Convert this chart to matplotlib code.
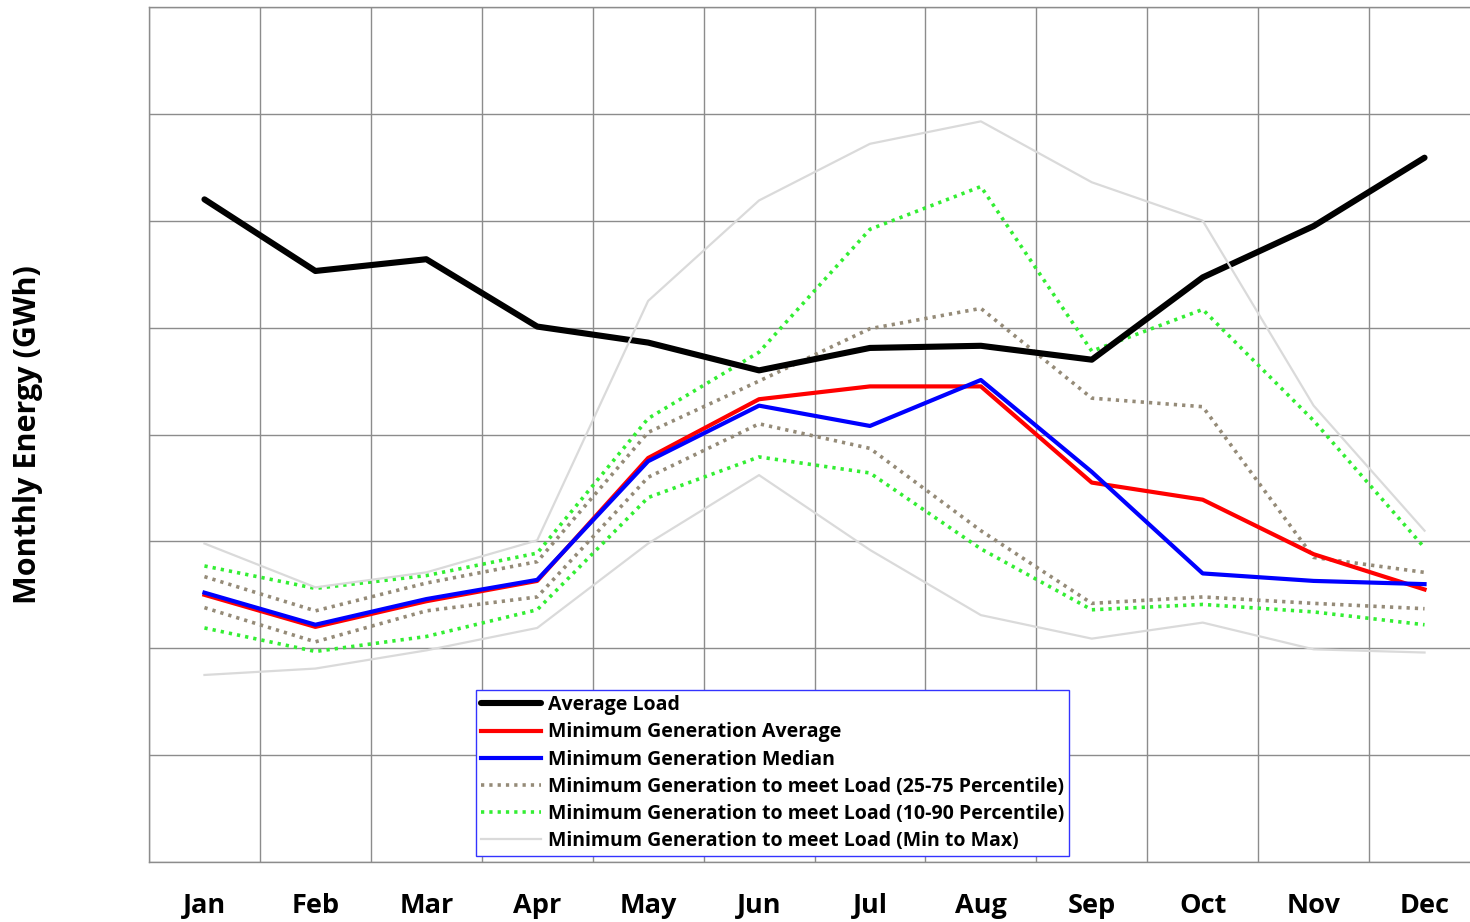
import numpy as np
import matplotlib.pyplot as plt

plt.rcParams['font.family'] = ['Open Sans', 'DejaVu Sans']

months = ['Jan', 'Feb', 'Mar', 'Apr', 'May', 'Jun', 'Jul', 'Aug', 'Sep', 'Oct', 'Nov', 'Dec']

# values (one grid step = 1 unit, no y labels in the original)
avg_load = [6.20, 5.53, 5.64, 5.01, 4.86, 4.60, 4.81, 4.83, 4.70, 5.47, 5.95, 6.59]
mingen_avg = [2.50, 2.20, 2.44, 2.63, 3.78, 4.33, 4.45, 4.45, 3.55, 3.39, 2.88, 2.55]
mingen_median = [2.52, 2.22, 2.46, 2.64, 3.75, 4.27, 4.08, 4.51, 3.65, 2.70, 2.63, 2.60]
p75 = [2.67, 2.35, 2.61, 2.81, 4.02, 4.50, 4.99, 5.18, 4.34, 4.26, 2.85, 2.71]
p25 = [2.38, 2.06, 2.35, 2.48, 3.60, 4.10, 3.87, 3.10, 2.42, 2.48, 2.42, 2.37]
p90 = [2.77, 2.56, 2.68, 2.89, 4.15, 4.77, 5.92, 6.32, 4.78, 5.17, 4.13, 2.94]
p10 = [2.19, 1.97, 2.11, 2.36, 3.41, 3.79, 3.64, 2.93, 2.36, 2.41, 2.34, 2.22]
gen_max = [2.98, 2.57, 2.71, 3.01, 5.25, 6.19, 6.72, 6.93, 6.36, 6.00, 4.27, 3.10]
gen_min = [1.75, 1.81, 1.98, 2.19, 2.98, 3.62, 2.92, 2.31, 2.09, 2.24, 1.99, 1.96]

x = np.arange(len(months))

fig = plt.figure(figsize=(14.7, 9.22), dpi=100)
ax = fig.add_axes([149 / 1470, 60 / 922, 1331 / 1470, 855 / 922])

dot = (0, (0.9, 1.4))
ax.plot(x, avg_load, color='black', lw=4.4, solid_capstyle='round', label='Average Load', zorder=5)
ax.plot(x, mingen_avg, color='#ff0000', lw=3.0, label='Minimum Generation Average', zorder=4)
ax.plot(x, mingen_median, color='#0000ff', lw=3.0, label='Minimum Generation Median', zorder=4)
ax.plot(x, p75, color='#958b78', lw=2.6, ls=dot,
        label='Minimum Generation to meet Load (25-75 Percentile)', zorder=3)
ax.plot(x, p25, color='#958b78', lw=2.6, ls=dot, label='_nolegend_', zorder=3)
ax.plot(x, p90, color='#33ee33', lw=2.6, ls=dot,
        label='Minimum Generation to meet Load (10-90 Percentile)', zorder=3)
ax.plot(x, p10, color='#33ee33', lw=2.6, ls=dot, label='_nolegend_', zorder=3)
ax.plot(x, gen_max, color='#dadada', lw=1.6,
        label='Minimum Generation to meet Load (Min to Max)', zorder=6)
ax.plot(x, gen_min, color='#dadada', lw=1.6, label='_nolegend_', zorder=6)

ax.set_xlim(-0.5, 11.5)
ax.set_ylim(0, 8)
ax.set_xticks(x)
ax.set_xticklabels(months, fontsize=19.5, fontweight='bold')
ax.set_xticks(np.arange(-0.5, 12, 1), minor=True)
ax.set_yticks(np.arange(0, 9, 1))
ax.set_yticklabels([])
ax.tick_params(axis='both', which='both', length=0)
ax.tick_params(axis='x', which='major', pad=22)
ax.grid(True, which='minor', axis='x', color='#8c8c8c', lw=1.0)
ax.grid(True, which='major', axis='y', color='#8c8c8c', lw=1.0)
ax.set_axisbelow(True)
for side in ['left', 'bottom', 'top']:
    ax.spines[side].set_color('#8c8c8c')
    ax.spines[side].set_linewidth(1.0)
ax.spines['right'].set_visible(False)

fig.text(28 / 1470, 1 - 435 / 922, 'Monthly Energy (GWh)', rotation=90,
         ha='center', va='center', fontsize=22, fontweight='bold')

leg = ax.legend(loc='lower left', bbox_to_anchor=((476 - 149) / 1331, 6 / 855),
                borderaxespad=0, prop={'weight': 'bold', 'size': 14.0},
                handlelength=3.1, handletextpad=0.35, labelspacing=0.37,
                borderpad=0.25, fancybox=False, framealpha=1)
leg.get_frame().set_edgecolor('#3333ff')
leg.get_frame().set_linewidth(1.0)

fig.savefig('out.png', dpi=100)
